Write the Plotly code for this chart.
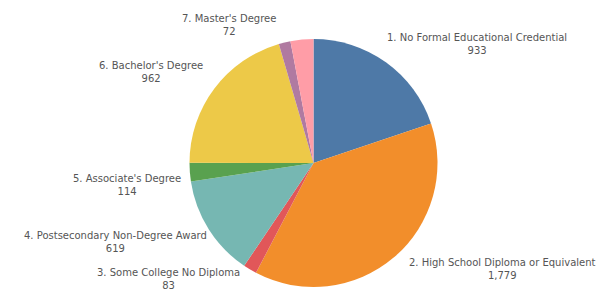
import plotly.graph_objects as go

# The page body has an 8px default margin, so the figure is drawn 8px in from the top-left.
OFF = 8
W, H = 613 - OFF, 293 - OFF

labels = [
    "1. No Formal Educational Credential",
    "2. High School Diploma or Equivalent",
    "3. Some College No Diploma",
    "4. Postsecondary Non-Degree Award",
    "5. Associate's Degree",
    "6. Bachelor's Degree",
    "7. Master's Degree",
    "8. Doctoral or Professional Degree",
]
values = [933, 1779, 83, 619, 114, 962, 72, 140]
colors = ["#4e79a7", "#f28e2b", "#e15759", "#76b7b2", "#59a14f", "#edc948", "#b07aa1", "#ff9da7"]
show_label = [True, True, True, True, True, True, True, False]

# label block centres in window pixels (x, y)
label_pos = [(477, 44), (502, 269), (168, 279), (115, 242), (127, 185), (151, 72), (229, 25), None]

cx, cy, r = 313.5 - OFF, 163 - OFF, 124

fig = go.Figure(go.Pie(
    labels=labels,
    values=values,
    sort=False,
    direction="clockwise",
    rotation=0,
    marker=dict(colors=colors, line=dict(width=0)),
    textinfo="none",
    hoverinfo="label+value",
    showlegend=False,
    domain=dict(x=[(cx - r) / W, (cx + r) / W], y=[(H - cy - r) / H, (H - cy + r) / H]),
))

annotations = []
for lab, val, show, pos in zip(labels, values, show_label, label_pos):
    if not show or pos is None:
        continue
    annotations.append(dict(
        text=f"{lab}<br>{val:,}",
        x=(pos[0] - OFF) / W, y=1 - (pos[1] - OFF) / H,
        xref="paper", yref="paper",
        xanchor="center", yanchor="middle",
        showarrow=False, align="center",
        font=dict(family="DejaVu Sans, Verdana, sans-serif", size=10, color="#555555"),
    ))

fig.update_layout(
    width=W, height=H,
    margin=dict(l=0, r=0, t=0, b=0),
    paper_bgcolor="white",
    plot_bgcolor="white",
    annotations=annotations,
)

fig.write_html("out.html")
